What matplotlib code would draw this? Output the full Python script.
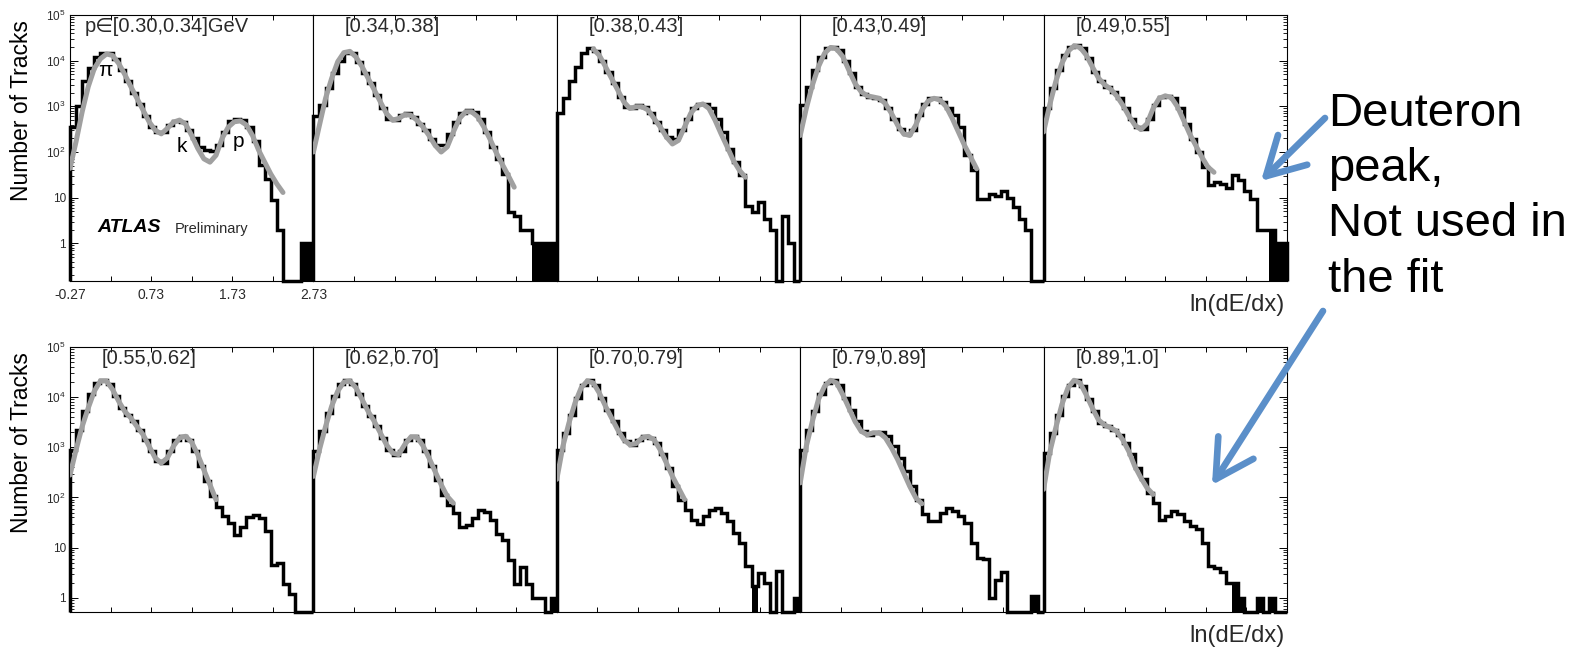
import numpy as np
import matplotlib
matplotlib.use("Agg")
import matplotlib.pyplot as plt
from matplotlib.ticker import LogLocator, FuncFormatter, NullFormatter
from matplotlib.patches import ArrowStyle

plt.rcParams['font.family'] = ['Liberation Sans', 'DejaVu Sans']
plt.rcParams['mathtext.fontset'] = 'custom'
plt.rcParams['mathtext.rm'] = 'Liberation Sans'
plt.rcParams['mathtext.it'] = 'Liberation Sans:italic'

# ---- data: ln(dE/dx) histograms per momentum slice (40 bins, -0.27..2.73) ----
LABELS = ["p\u2208[0.30,0.34]GeV", "[0.34,0.38]", "[0.38,0.43]", "[0.43,0.49]",
          "[0.49,0.55]", "[0.55,0.62]", "[0.62,0.70]", "[0.70,0.79]",
          "[0.79,0.89]", "[0.89,1.0]"]

h_030 = [360, 1000, 3500, 7000, 12000, 15000, 15000, 10700, 6400, 3500,
         2000, 1100, 600, 360, 280, 280, 400, 480, 450, 300,
         200, 130, 110, 105, 140, 280, 470, 530, 500, 360,
         170, 52, 26, 8.7, 2, 0, 0, 0, 1, 1]
h_034 = [600, 1070, 2500, 5300, 10000, 15000, 14500, 9500, 5300, 3200,
         1800, 900, 540, 500, 640, 700, 590, 420, 300, 195,
         140, 140, 250, 460, 700, 830, 760, 540, 275, 130,
         71, 33, 4.8, 4, 2, 2, 1, 1, 1, 1]
h_038 = [700, 1500, 3500, 7400, 14500, 18600, 16000, 10000, 5700, 3200,
         1600, 980, 900, 1070, 980, 700, 460, 300, 215, 195,
         300, 540, 900, 1100, 1100, 900, 540, 275, 118, 60,
         31, 6.7, 4.8, 8, 3.4, 2, 0, 4, 1, 0]
h_043 = [1070, 2700, 6200, 12300, 18600, 20000, 17000, 10000, 5300, 2700,
         1900, 1600, 1550, 1370, 900, 540, 325, 250, 300, 640,
         1100, 1500, 1500, 1260, 900, 640, 355, 85, 40, 9.4,
         9.4, 12, 11, 14, 10, 6.2, 3.4, 2, 0, 0]
h_049 = [900, 2500, 6200, 13300, 20000, 22000, 18600, 11200, 5700, 3500,
         2700, 2100, 1500, 900, 540, 355, 325, 540, 1070, 1600,
         1700, 1500, 900, 420, 195, 100, 47, 19, 22, 20,
         16, 31, 24, 14, 9.4, 2, 2, 2, 1, 1]
h_055 = [900, 2250, 5200, 11300, 19300, 22000, 18000, 10500, 6100, 4500,
         3300, 2250, 1400, 830, 525, 485, 830, 1400, 1660, 1400,
         830, 415, 210, 105, 66, 42, 31, 18, 26, 40,
         45, 39, 21, 4.5, 4.9, 1.9, 1.2, 0, 0, 0]
h_062 = [830, 2100, 4900, 10500, 18000, 21500, 18000, 11300, 6600, 4200,
         2600, 1550, 900, 715, 830, 1420, 1700, 1420, 830, 415,
         225, 113, 71, 49, 26, 28, 39, 57, 52, 36,
         19, 14, 5.7, 1.9, 4.2, 1.9, 1, 1, 0, 1]
h_070 = [870, 1950, 4500, 9600, 17800, 21700, 17800, 9600, 5600, 3300,
         1950, 1320, 1130, 1420, 1650, 1540, 1230, 720, 390, 167,
         91, 57, 36, 29, 42, 57, 62, 49, 34, 20,
         12.5, 4.3, 1.7, 3.1, 2, 0, 3.4, 0, 0, 1]
h_079 = [890, 2250, 5200, 11300, 19200, 21700, 17800, 9600, 5600, 3300,
         2100, 1780, 1950, 2000, 1650, 1050, 610, 335, 167, 91,
         46, 34, 34, 49, 62, 53, 42, 31, 12.5, 6.3,
         5.8, 1, 2.3, 3.2, 0, 0, 0, 0, 1.1, 0]
h_089 = [780, 1950, 4500, 10500, 17800, 21700, 16600, 9000, 5200, 3100,
         2600, 2200, 1780, 1230, 720, 390, 230, 124, 78, 36,
         42, 54, 46, 34, 27, 23, 12.5, 4.3, 4, 3.2,
         2, 2, 1, 0, 0, 1, 0, 1, 0, 0]

# bins drawn as solid blocks (dense low-count fluctuations)
solid_030 = [38, 39]
solid_034 = [36, 37, 38, 39]
solid_038 = []
solid_043 = []
solid_049 = [37, 38, 39]
solid_055 = []
solid_062 = [39]
solid_070 = [32, 39]
solid_079 = [38]
solid_089 = [31, 32, 35, 37]

# fit curve (gray), sampled on bin edges, starting at edge index fs_*
fs_030, f_030 = 0, [44, 170, 760, 2700, 6800, 11000, 14000, 13000, 8700, 5000,
                    2700, 1500, 830, 460, 300, 250, 330, 450, 500, 410,
                    230, 120, 71, 60, 85, 200, 350, 460, 480, 390,
                    230, 110, 60, 33, 20, 13]
fs_034, f_034 = 0, [100, 390, 1500, 4100, 9500, 15000, 16000, 12000, 7400, 4100,
                    2300, 1260, 700, 500, 540, 660, 640, 500, 355, 230,
                    140, 100, 130, 275, 540, 760, 760, 590, 355, 195,
                    100, 55, 31, 17]
fs_038, f_038 = 6, [18000, 13000, 7400, 4100, 2300, 1260, 900, 980, 980, 830,
                    540, 355, 215, 150, 180, 355, 700, 1020, 1130, 900,
                    500, 250, 130, 66, 40, 28]
fs_043, f_043 = 0, [230, 900, 2900, 7400, 14500, 19500, 18000, 12300, 6200, 3200,
                    2100, 1700, 1600, 1500, 1150, 700, 390, 250, 230, 390,
                    830, 1300, 1500, 1370, 980, 540, 275, 140, 78, 43]
fs_049, f_049 = 0, [275, 1070, 3500, 8700, 16000, 21000, 19500, 13300, 7400, 4200,
                    3000, 2400, 1700, 1070, 620, 390, 310, 420, 900, 1500,
                    1700, 1550, 980, 500, 250, 140, 78, 47, 36]
fs_055, f_055 = 0, [280, 900, 2600, 6100, 13200, 21000, 21000, 14200, 8300, 5200,
                    3850, 2600, 1800, 1050, 615, 485, 615, 1050, 1540, 1660,
                    1260, 715, 355, 180, 90]
fs_062, f_062 = 0, [263, 900, 2600, 6600, 13200, 20000, 21000, 15400, 9000, 5200,
                    3300, 1940, 1130, 770, 715, 1130, 1600, 1600, 1080, 615,
                    330, 180, 105, 77]
fs_070, f_070 = 0, [230, 1050, 3070, 7700, 15300, 21000, 19200, 12000, 6600, 3850,
                    2250, 1420, 1130, 1180, 1540, 1650, 1420, 890, 490, 265,
                    155, 91]
fs_079, f_079 = 0, [195, 1050, 3300, 9000, 16400, 21700, 19200, 11200, 6100, 3300,
                    2100, 1780, 1950, 1950, 1540, 980, 575, 310, 167, 98, 75]
fs_089, f_089 = 0, [145, 780, 2450, 7100, 15300, 21700, 19200, 11200, 6100, 3550,
                    2800, 2450, 2100, 1420, 830, 415, 245, 155, 115]

HISTS = [h_030, h_034, h_038, h_043, h_049, h_055, h_062, h_070, h_079, h_089]
SOLIDS = [solid_030, solid_034, solid_038, solid_043, solid_049,
          solid_055, solid_062, solid_070, solid_079, solid_089]
FITS = [(fs_030, f_030), (fs_034, f_034), (fs_038, f_038), (fs_043, f_043),
        (fs_049, f_049), (fs_055, f_055), (fs_062, f_062), (fs_070, f_070),
        (fs_079, f_079), (fs_089, f_089)]

X_LO, X_HI, N_BINS = -0.27, 2.73, 40
XTICKS = [-0.27, 0.23, 0.73, 1.23, 1.73, 2.23, 2.73]
XTICKLABELS = ["-0.27", "", "0.73", "", "1.73", "", "2.73"]
YLO_TOP, YLO_BOT, YHI = 0.15, 0.52, 1e5

# ---- layout (pixels) ----
W, H = 1581, 648
LEFT, RIGHT = 70, 1287
ROWS = [(15, 281, YLO_TOP), (347, 612, YLO_BOT)]
PW = (RIGHT - LEFT) / 5.0
GRAY = "#a0a0a0"
TXT = "#2a2a2a"
BLUE = "#5b8fc9"


def ytick_fmt(v, _pos):
    e = int(round(np.log10(v)))
    if e == 0:
        return "1"
    if e == 1:
        return "10"
    return r"$10^{%d}$" % e


fig = plt.figure(figsize=(W / 100, H / 100), dpi=100)
edges = np.linspace(X_LO, X_HI, N_BINS + 1)

for row, (ytop, ybot, ylo) in enumerate(ROWS):
    for col in range(5):
        k = row * 5 + col
        ax = fig.add_axes([(LEFT + col * PW) / W, 1 - ybot / H, PW / W, (ybot - ytop) / H])
        ax.set_yscale("log")
        ax.set_xlim(X_LO, X_HI)
        ax.set_ylim(ylo, YHI)

        h = np.array(HISTS[k], dtype=float)
        vals = np.where(h > 0, h, ylo)
        mask = np.zeros(N_BINS, bool)
        mask[SOLIDS[k]] = True
        if mask.any():
            ax.stairs(np.where(mask, vals, ylo), edges, baseline=ylo, fill=True,
                      color="k", zorder=2)
        ax.stairs(vals, edges, baseline=ylo, color="k", lw=2.5, zorder=2,
                  clip_on=False)
        s, f = FITS[k]
        ax.plot(edges[s:s + len(f)], f, color=GRAY, lw=3.6, zorder=3,
                solid_capstyle="round")

        for sp in ax.spines.values():
            sp.set_linewidth(0.8)
        ax.set_xticks(XTICKS)
        if k == 0:
            ax.set_xticklabels(XTICKLABELS, fontsize=10, color=TXT)
        else:
            ax.set_xticklabels([])
        ax.tick_params(axis="x", direction="in", top=True, length=3.5, width=0.7,
                       pad=5)

        ax.yaxis.set_major_locator(LogLocator(base=10, numticks=12))
        ax.yaxis.set_minor_locator(LogLocator(base=10, subs=np.arange(2, 10), numticks=12))
        ax.yaxis.set_minor_formatter(NullFormatter())
        if col == 0:
            ax.yaxis.set_major_formatter(FuncFormatter(ytick_fmt))
            ax.tick_params(axis="y", which="both", direction="in", left=True,
                           right=False, labelsize=8.5, labelcolor=TXT, pad=3)
        elif col == 4:
            ax.tick_params(axis="y", which="both", direction="in", left=False,
                           right=True, labelleft=False)
        else:
            ax.tick_params(axis="y", which="both", left=False, right=False,
                           labelleft=False)
        ax.tick_params(axis="y", which="major", length=5.5, width=0.7)
        ax.tick_params(axis="y", which="minor", length=3, width=0.6)

        xlab = 0.062 if k == 0 else 0.13
        ax.text(xlab, 0.955, LABELS[k], transform=ax.transAxes, fontsize=14.5,
                ha="left", va="center", color=TXT)

        if k == 0:
            ax.text(0.17, 6000, "\u03c0", fontsize=15, ha="center", va="center")
            ax.text(1.11, 135, "k", fontsize=15, ha="center", va="center")
            ax.text(1.80, 166, "p", fontsize=15, ha="center", va="center")
            ax.text(0.111, 0.20, "ATLAS", transform=ax.transAxes, fontsize=14,
                    fontweight="bold", fontstyle="italic", ha="left", va="center")
            ax.text(0.431, 0.195, "Preliminary", transform=ax.transAxes,
                    fontsize=10.5, ha="left", va="center", color=TXT)

    fig.text(22 / W, 1 - (ytop + 5) / H, "Number of Tracks", rotation=90,
             ha="center", va="top", fontsize=16.5)
    fig.text(1285 / W, 1 - (ybot + 24) / H, "ln(dE/dx)", ha="right", va="center",
             fontsize=17, color=TXT)

# ---- annotation ----
over = fig.add_axes([0, 0, 1, 1], zorder=10)
over.set_xlim(0, W)
over.set_ylim(H, 0)
over.axis("off")
over.text(1328, 92, "Deuteron\npeak,\nNot used in\nthe fit", fontsize=34,
          ha="left", va="top", linespacing=1.33)
style = ArrowStyle("->", head_length=0.45, head_width=0.25)
for start, tip in [((1325, 118), (1261, 181)), ((1323, 311), (1212, 485))]:
    over.annotate("", xy=tip, xytext=start,
                  arrowprops=dict(arrowstyle=style, mutation_scale=60, lw=4.8,
                                  color=BLUE, shrinkA=0, shrinkB=0,
                                  capstyle="round", joinstyle="round"))

fig.savefig("out.png", dpi=100)
